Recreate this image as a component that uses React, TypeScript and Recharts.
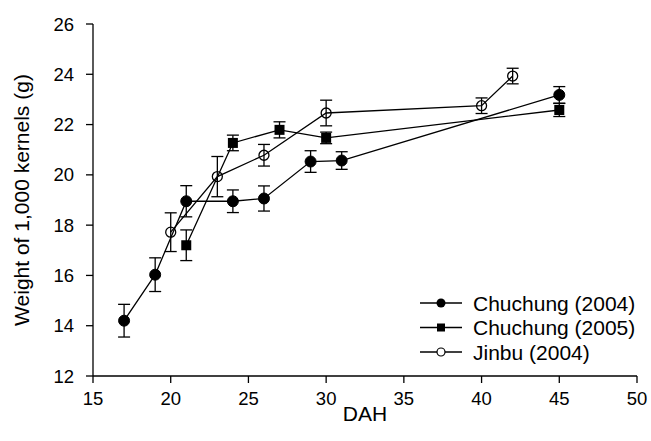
import React from 'react';
import { LineChart, Line, XAxis, YAxis, ErrorBar } from 'recharts';

const chuchung2004Days = [17, 19, 21, 24, 26, 29, 31, 45];
const chuchung2004Weight = [14.2, 16.03, 18.95, 18.95, 19.06, 20.53, 20.57, 23.18];
const chuchung2004Err = [0.65, 0.67, 0.62, 0.45, 0.5, 0.43, 0.35, 0.33];

const chuchung2005Days = [21, 24, 27, 30, 45];
const chuchung2005Weight = [17.2, 21.27, 21.79, 21.47, 22.58];
const chuchung2005Err = [0.61, 0.31, 0.32, 0.23, 0.26];

const jinbuDays = [20, 23, 26, 30, 40, 42];
const jinbuWeight = [17.72, 19.93, 20.78, 22.46, 22.75, 23.93];
const jinbuErr = [0.77, 0.8, 0.43, 0.51, 0.31, 0.31];

const xTicks = [15, 20, 25, 30, 35, 40, 45, 50];
const yTicks = [12, 14, 16, 18, 20, 22, 24, 26];

const seriesNames = ['Chuchung (2004)', 'Chuchung (2005)', 'Jinbu (2004)'];

const build = (days: number[], w: number[], e: number[]) =>
  days.map((d, i) => ({ x: d, y: w[i], err: e[i] }));

const d2004 = build(chuchung2004Days, chuchung2004Weight, chuchung2004Err);
const d2005 = build(chuchung2005Days, chuchung2005Weight, chuchung2005Err);
const dJinbu = build(jinbuDays, jinbuWeight, jinbuErr);

const FONT = '"Liberation Sans", Arial, sans-serif';

const FilledCircle = (props: any) => {
  const { cx, cy } = props;
  if (cx == null || cy == null) return null;
  return <circle cx={cx} cy={cy} r={5.5} fill="#000" stroke="#000" />;
};
const FilledSquare = (props: any) => {
  const { cx, cy } = props;
  if (cx == null || cy == null) return null;
  return <rect x={cx - 5} y={cy - 5} width={10} height={10} fill="#000" />;
};
const OpenCircle = (props: any) => {
  const { cx, cy } = props;
  if (cx == null || cy == null) return null;
  return <circle cx={cx} cy={cy} r={5} fill="none" stroke="#000" strokeWidth={1.3} />;
};

const LegendBox = () => (
  <svg width={232} height={80} style={{ position: 'absolute', left: 418, top: 291, display: 'block' }}>
    {seriesNames.map((name, i) => {
      const y = 12 + i * 24.5;
      return (
        <g key={name}>
          <line x1={2} x2={44} y1={y} y2={y} stroke="#000" strokeWidth={1.3} />
          {i === 0 && <circle cx={23} cy={y} r={4.5} fill="#000" />}
          {i === 1 && <rect x={19} y={y - 4} width={8} height={8} fill="#000" />}
          {i === 2 && <circle cx={23} cy={y} r={4} fill="#fff" stroke="#000" strokeWidth={1.2} />}
          <text x={55} y={y + 7.5} fontSize={21} fontFamily={FONT} fill="#000">
            {name}
          </text>
        </g>
      );
    })}
  </svg>
);

export default function App() {
  return (
    <div style={{ position: 'absolute', left: 0, top: 0, width: 651, height: 441, overflow: 'hidden' }}>
      <LineChart
        width={651}
        height={441}
        margin={{ top: 24, right: 14, left: 0, bottom: 0 }}
        style={{ fontFamily: FONT }}
      >
        <XAxis
          type="number"
          dataKey="x"
          domain={[15, 50]}
          ticks={xTicks}
          allowDataOverflow
          height={65}
          tickSize={7}
          tickMargin={9}
          stroke="#000"
          tick={{ fill: '#000', fontSize: 18.5, fontFamily: FONT }}
          axisLine={{ stroke: '#000', strokeWidth: 1.3 }}
          tickLine={{ stroke: '#000', strokeWidth: 1.3 }}
          label={{ value: 'DAH', position: 'insideBottom', offset: 20, fill: '#000', fontSize: 21, fontFamily: FONT }}
        />
        <YAxis
          type="number"
          domain={[12, 26]}
          ticks={yTicks}
          width={93}
          tickSize={7}
          tickMargin={12}
          stroke="#000"
          tick={{ fill: '#000', fontSize: 18.5, fontFamily: FONT }}
          axisLine={{ stroke: '#000', strokeWidth: 1.3 }}
          tickLine={{ stroke: '#000', strokeWidth: 1.3 }}
          label={{
            value: 'Weight of 1,000 kernels (g)',
            angle: -90,
            position: 'insideLeft',
            offset: 22,
            fill: '#000',
            fontSize: 21,
            fontFamily: FONT,
            style: { textAnchor: 'middle' },
          }}
        />
        <Line
          data={d2004}
          dataKey="y"
          name={seriesNames[0]}
          stroke="#000"
          strokeWidth={1.3}
          dot={FilledCircle}
          activeDot={false}
          isAnimationActive={false}
        >
          <ErrorBar dataKey="err" direction="y" width={6} stroke="#000" strokeWidth={1.3} />
        </Line>
        <Line
          data={d2005}
          dataKey="y"
          name={seriesNames[1]}
          stroke="#000"
          strokeWidth={1.3}
          dot={FilledSquare}
          activeDot={false}
          isAnimationActive={false}
        >
          <ErrorBar dataKey="err" direction="y" width={6} stroke="#000" strokeWidth={1.3} />
        </Line>
        <Line
          data={dJinbu}
          dataKey="y"
          name={seriesNames[2]}
          stroke="#000"
          strokeWidth={1.3}
          dot={OpenCircle}
          activeDot={false}
          isAnimationActive={false}
        >
          <ErrorBar dataKey="err" direction="y" width={6} stroke="#000" strokeWidth={1.3} />
        </Line>
      </LineChart>
      <LegendBox />
    </div>
  );
}
